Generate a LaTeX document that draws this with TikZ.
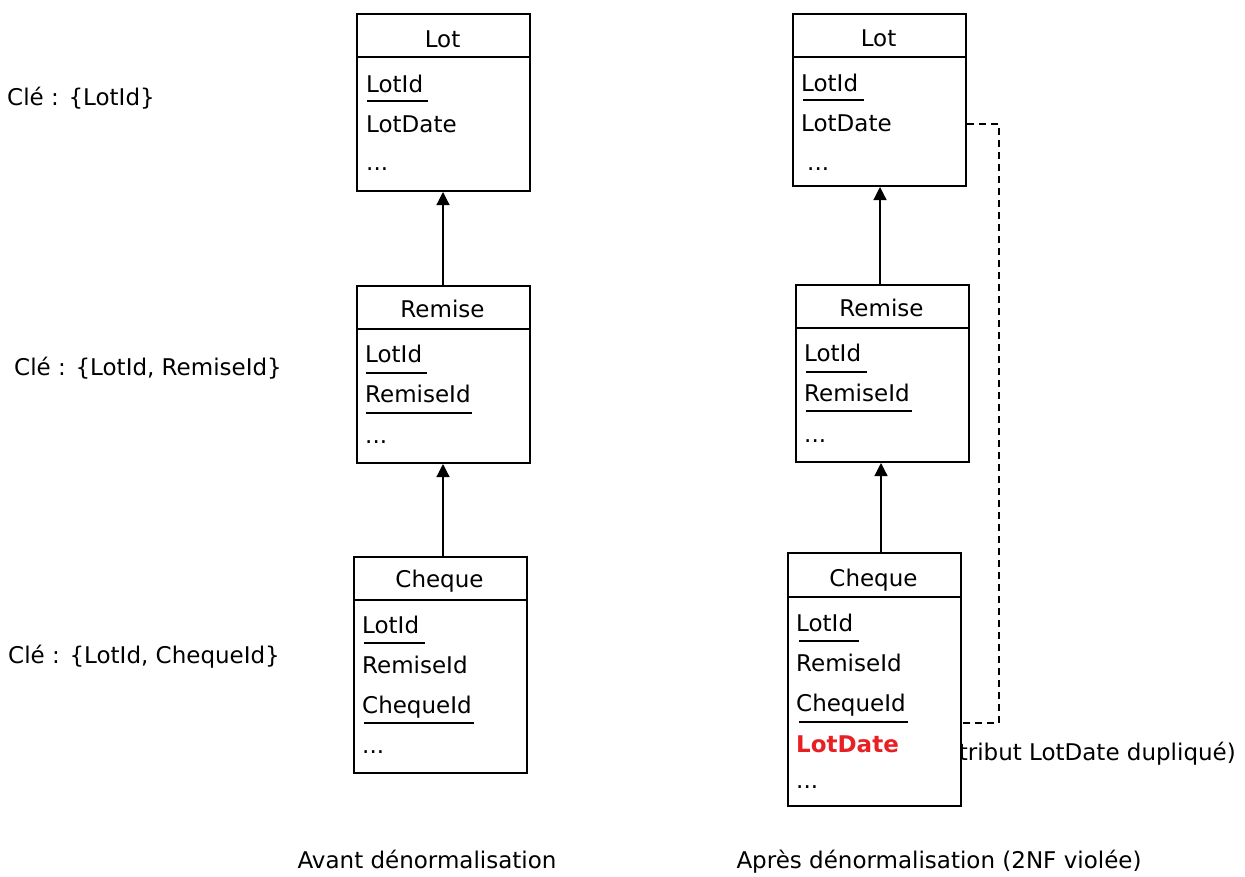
\documentclass[tikz,border=0pt]{standalone}
\usepackage{fontspec}
\setmainfont{DejaVu Sans}
\usetikzlibrary{arrows.meta}
\definecolor{dupred}{RGB}{232,32,36}
\tikzset{
  txt/.style={font=\fontsize{23}{27}\selectfont},
  entity/.style={draw, line width=2pt, fill=white, anchor=north west, inner sep=0pt},
  title/.style={txt, anchor=base, inner sep=0pt},
  attr/.style={txt, anchor=base west, inner sep=0pt},
  lbl/.style={txt, anchor=base west, inner sep=0pt},
  keyline/.style={line width=1.8pt},
  sep/.style={line width=1.8pt},
  inherit/.style={line width=1.2pt, -{Triangle[length=13pt,width=13pt]}},
  dup/.style={line width=1.4pt, dash pattern=on 7pt off 5pt}
}
\begin{document}
\begin{tikzpicture}[x=1pt,y=-1pt]
\useasboundingbox (0,0) rectangle (1245,876);

% left labels
\node[lbl] (k1) at (7,105) {Clé : \{LotId\}};
\node[lbl] (k2) at (14,375) {Clé : \{LotId, RemiseId\}};
\node[lbl] (k3) at (8,663) {Clé : \{LotId, ChequeId\}};

% duplicated attribute note (partly hidden behind the box)
\node[txt, anchor=base east, inner sep=0pt] (note) at (1236,760) {(Attribut LotDate dupliqué)};

% ---------- Left column ----------
\node[entity, minimum width=173pt, minimum height=177pt] (L1) at (356,13) {};
\draw[sep] (356,57) -- (529,57);
\node[title] (L1t) at (442.5,47) {Lot};
\node[attr] (L1a) at (366,92) {LotId};
\draw[keyline] (367,101) -- (428,101);
\node[attr] (L1b) at (366,132) {LotDate};
\node[attr] (L1c) at (366,170) {...};

\node[entity, minimum width=173pt, minimum height=177pt] (R1) at (356,285) {};
\draw[sep] (356,329) -- (529,329);
\node[title] (R1t) at (442.5,317) {Remise};
\node[attr] (R1a) at (365,362) {LotId};
\draw[keyline] (366,373) -- (427,373);
\node[attr] (R1b) at (365,402) {RemiseId};
\draw[keyline] (366,413) -- (472,413);
\node[attr] (R1c) at (365,443) {...};

\node[entity, minimum width=173pt, minimum height=216pt] (C1) at (353,556) {};
\draw[sep] (353,600) -- (526,600);
\node[title] (C1t) at (439.5,587) {Cheque};
\node[attr] (C1a) at (362,633) {LotId};
\draw[keyline] (364,643) -- (425,643);
\node[attr] (C1b) at (362,673) {RemiseId};
\node[attr] (C1c) at (362,713) {ChequeId};
\draw[keyline] (364,723) -- (474,723);
\node[attr] (C1d) at (362,753) {...};

\draw[inherit] (R1.north -| 443,0) -- (L1.south -| 443,0);
\draw[inherit] (C1.north -| 443,0) -- (R1.south -| 443,0);

% ---------- Right column ----------
\node[entity, minimum width=173pt, minimum height=172pt] (L2) at (792,13) {};
\draw[sep] (792,57) -- (965,57);
\node[title] (L2t) at (878.5,46) {Lot};
\node[attr] (L2a) at (801,91) {LotId};
\draw[keyline] (803,100) -- (864,100);
\node[attr] (L2b) at (801,131) {LotDate};
\node[attr] (L2c) at (807,170) {...};

\node[entity, minimum width=173pt, minimum height=177pt] (R2) at (795,284) {};
\draw[sep] (795,328) -- (968,328);
\node[title] (R2t) at (881.5,316) {Remise};
\node[attr] (R2a) at (804,361) {LotId};
\draw[keyline] (806,372) -- (867,372);
\node[attr] (R2b) at (804,401) {RemiseId};
\draw[keyline] (806,411) -- (912,411);
\node[attr] (R2c) at (804,442) {...};

\node[entity, minimum width=173pt, minimum height=253pt] (C2) at (787,552) {};
\draw[sep] (787,597) -- (960,597);
\node[title] (C2t) at (873.5,586) {Cheque};
\node[attr] (C2a) at (796,631) {LotId};
\draw[keyline] (799,641) -- (859,641);
\node[attr] (C2b) at (796,671) {RemiseId};
\node[attr] (C2c) at (796,711) {ChequeId};
\draw[keyline] (799,722) -- (908,722);
\node[attr, text=dupred, font=\fontsize{23}{27}\selectfont\bfseries] (C2d) at (796,752) {LotDate};
\node[attr] (C2e) at (796,788) {...};

\draw[inherit] (R2.north -| 880,0) -- (L2.south -| 880,0);
\draw[inherit] (C2.north -| 881,0) -- (R2.south -| 881,0);

\coordinate (d1) at (999,124);
\coordinate (d2) at (999,723);
\draw[dup] (L2.east |- d1) -- (d1) -- (d2) -- (C2.east |- d2);

% captions
\node[txt, anchor=base, inner sep=0pt] (cap1) at (427,868) {Avant dénormalisation};
\node[txt, anchor=base, inner sep=0pt] (cap2) at (939,868) {Après dénormalisation (2NF violée)};
\end{tikzpicture}
\end{document}
